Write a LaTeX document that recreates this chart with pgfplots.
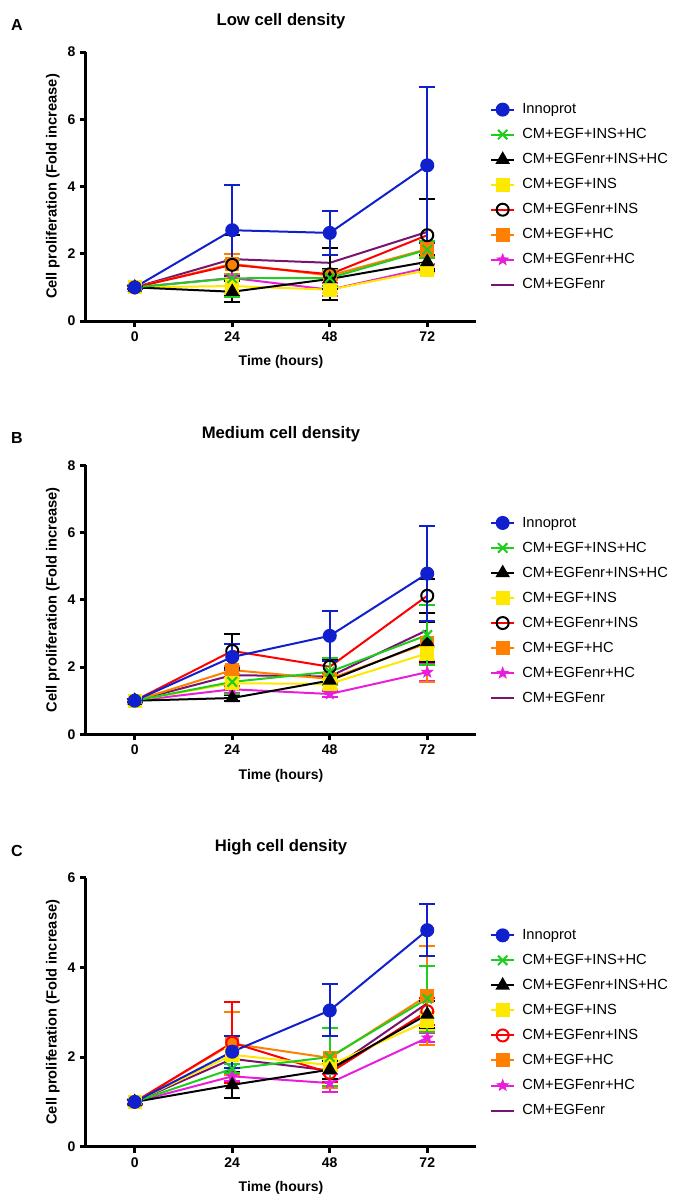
\documentclass[border=0pt]{standalone}
\usepackage{fontspec}
\setmainfont{Liberation Sans}
\usepackage{pgfplots}
\pgfplotsset{compat=1.18}
\usepackage{pgfplotstable}

\definecolor{cInno}{RGB}{16,32,204}
\definecolor{cGreen}{RGB}{30,205,30}
\definecolor{cYellow}{RGB}{255,232,0}
\definecolor{cRed}{RGB}{255,0,0}
\definecolor{cOrange}{RGB}{255,128,0}
\definecolor{cMag}{RGB}{232,30,220}
\definecolor{cPurple}{RGB}{120,20,110}

% filled five-point star
\pgfdeclareplotmark{fstar}{%
  \pgfpathmoveto{\pgfpointpolar{90}{\pgfplotmarksize}}%
  \pgfpathlineto{\pgfpointpolar{126}{0.42\pgfplotmarksize}}%
  \pgfpathlineto{\pgfpointpolar{162}{\pgfplotmarksize}}%
  \pgfpathlineto{\pgfpointpolar{198}{0.42\pgfplotmarksize}}%
  \pgfpathlineto{\pgfpointpolar{234}{\pgfplotmarksize}}%
  \pgfpathlineto{\pgfpointpolar{270}{0.42\pgfplotmarksize}}%
  \pgfpathlineto{\pgfpointpolar{306}{\pgfplotmarksize}}%
  \pgfpathlineto{\pgfpointpolar{342}{0.42\pgfplotmarksize}}%
  \pgfpathlineto{\pgfpointpolar{18}{\pgfplotmarksize}}%
  \pgfpathlineto{\pgfpointpolar{54}{0.42\pgfplotmarksize}}%
  \pgfpathclose\pgfusepathqfillstroke}

% t, then mean and SD per condition (p = CM+EGFenr, no bars)
\pgfplotstableread{
t  inno innoe g    ge   k    ke   y    ye   r    re   o    oe   m    me   p
0  1.00 0.04  1.00 0.04 1.00 0.04 1.00 0.04 1.00 0.04 1.00 0.06 1.00 0.04 1.00
24 2.70 1.35  1.27 0.55 0.87 0.31 1.04 0.25 1.67 0.90 1.70 0.30 1.28 0.10 1.84
48 2.62 0.66  1.28 0.25 1.25 0.30 0.93 0.10 1.39 0.77 1.35 0.12 0.93 0.20 1.73
72 4.63 2.32  2.12 0.25 1.76 0.20 1.51 0.08 2.55 1.07 2.14 0.25 1.58 0.12 2.65
}\lowdata
\pgfplotstableread{
t  inno innoe g    ge   k    ke   y    ye   r    re   o    oe   m    me   p
0  1.00 0.04  1.00 0.04 1.00 0.04 1.00 0.04 1.00 0.04 1.00 0.06 1.00 0.04 1.00
24 2.30 0.38  1.56 0.35 1.08 0.10 1.52 0.15 2.48 0.50 1.91 0.12 1.34 0.10 1.76
48 2.93 0.74  1.86 0.40 1.60 0.12 1.50 0.15 2.01 0.20 1.65 0.12 1.20 0.10 1.72
72 4.78 1.42  2.95 0.89 2.75 0.60 2.41 0.20 4.12 0.50 2.71 1.15 1.85 0.25 3.10
}\meddata
\pgfplotstableread{
t  inno innoe g    ge   k    ke   y    ye   r    re   o    oe   m    me   p
0  1.00 0.04  1.00 0.04 1.00 0.04 1.00 0.04 1.00 0.04 1.00 0.06 1.00 0.04 1.00
24 2.12 0.36  1.74 0.10 1.38 0.29 2.05 0.12 2.32 0.90 2.30 0.70 1.57 0.10 1.96
48 3.04 0.58  2.00 0.65 1.72 0.20 1.82 0.12 1.65 0.20 1.98 0.67 1.42 0.20 1.70
72 4.83 0.58  3.30 0.73 2.95 0.30 2.80 0.20 3.02 0.30 3.37 1.10 2.43 0.10 3.20
}\highdata

\pgfplotsset{
  panel/.style={
    scale only axis, width=292.5pt, height=201.75pt,
    xmin=-12, xmax=84, ymin=0, xtick={0,24,48,72},
    axis x line*=bottom, axis y line*=left,
    axis line style={line width=2.25pt,-},
    tick style={line width=2.25pt,black}, major tick length=4.5pt, tick align=outside,
    /pgf/number format/assume math mode=true,
    ticklabel style={font=\bfseries\fontsize{10.5}{12}\selectfont},
    xlabel={Time (hours)}, ylabel={Cell proliferation (Fold increase)},
    label style={font=\bfseries\fontsize{10.5}{12}\selectfont},
    xlabel style={at={(axis description cs:0.5,0)}, anchor=center, yshift=-31pt},
    ylabel style={at={(axis description cs:-0.085,0.5)}, anchor=center, font=\bfseries\fontsize{11}{13}\selectfont},
    title style={font=\bfseries\fontsize{12.5}{14}\selectfont, at={(axis description cs:0.5,1)}, anchor=center, yshift=17pt},
    legend style={draw=none, fill=none, at={(axis description cs:1.036,0.46)}, anchor=west,
      inner sep=0pt, font=\fontsize{11}{13}\selectfont, row sep=5.6pt, cells={anchor=west},
      /tikz/every odd column/.append style={column sep=3.5pt}},
    reverse legend,
    every axis plot/.append style={line width=1.5pt},
  },
  bars/.style={
    /pgfplots/error bars/y dir=both, /pgfplots/error bars/y explicit,
    /pgfplots/error bars/error bar style={line width=1.5pt},
    /pgfplots/error bars/error mark options={rotate=90, mark size=6pt, line width=1.5pt}},
}

\newcommand{\series}[2]{%
  \addplot[color=cPurple] table[x=t,y=p] {#1};
  \addlegendentry{CM+EGFenr}
  \addplot[color=cMag, mark=fstar, mark size=4.5pt, mark options={line width=0.5pt}, bars] table[x=t,y=m,y error=me] {#1};
  \addlegendentry{CM+EGFenr+HC}
  \addplot[color=cOrange, mark=square*, mark size=4.5pt, bars] table[x=t,y=o,y error=oe] {#1};
  \addlegendentry{CM+EGF+HC}
  \addplot[color=cRed, mark=o, mark size=4.5pt, mark options={draw=#2}, bars,
    /pgfplots/error bars/error bar style={line width=1.5pt,#2},
    /pgfplots/error bars/error mark options={rotate=90, mark size=6pt, line width=1.5pt, #2}] table[x=t,y=r,y error=re] {#1};
  \addlegendentry{CM+EGFenr+INS}
  \addplot[color=cYellow, mark=square*, mark size=4.5pt, bars] table[x=t,y=y,y error=ye] {#1};
  \addlegendentry{CM+EGF+INS}
  \addplot[color=black, mark=triangle*, mark size=4.8pt, bars] table[x=t,y=k,y error=ke] {#1};
  \addlegendentry{CM+EGFenr+INS+HC}
  \addplot[color=cGreen, mark=x, mark size=5pt, bars] table[x=t,y=g,y error=ge] {#1};
  \addlegendentry{CM+EGF+INS+HC}
  \addplot[color=cInno, mark=*, mark size=4.5pt, bars] table[x=t,y=inno,y error=innoe] {#1};
  \addlegendentry{Innoprot}
}

\begin{document}
\begin{tikzpicture}
\useasboundingbox (-64.5pt,-657pt) rectangle (440.25pt,240.75pt);

\begin{axis}[panel, at={(0pt,0pt)}, anchor=south west, ymax=8, ytick={0,2,4,6,8},
  title={Low cell density}]
\series{\lowdata}{black}
\end{axis}

\begin{axis}[panel, at={(0pt,-310pt)}, anchor=south west, ymax=8, ytick={0,2,4,6,8},
  title={Medium cell density}]
\series{\meddata}{black}
\end{axis}

\begin{axis}[panel, at={(0pt,-619.3pt)}, anchor=south west, ymax=6, ytick={0,2,4,6},
  title={High cell density}]
\series{\highdata}{cRed}
\end{axis}

\node[font=\bfseries\fontsize{12}{14}\selectfont] at (-51.75pt,222pt) {A};
\node[font=\bfseries\fontsize{12}{14}\selectfont] at (-51.75pt,-88pt) {B};
\node[font=\bfseries\fontsize{12}{14}\selectfont] at (-51.75pt,-397.5pt) {C};
\end{tikzpicture}
\end{document}
